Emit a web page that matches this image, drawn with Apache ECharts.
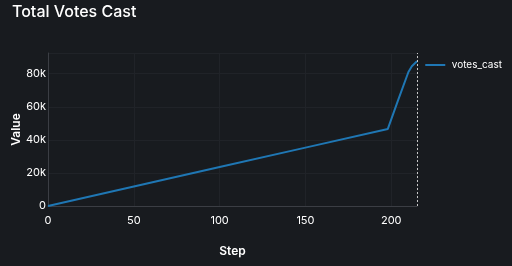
<!DOCTYPE html>
<html><head><meta charset="utf-8">
<script src="https://cdn.jsdelivr.net/npm/echarts@6/dist/echarts.min.js"></script>
<style>html,body{margin:0;padding:0;background:#181b1f;}#c{width:512px;height:266px;}</style>
</head><body><div id="c"></div>
<script>
const title = "Total Votes Cast";
const seriesName = "votes_cast";
const steps = [0, 50, 100, 150, 198, 204, 210, 212, 215];
const votes = [0, 11800, 23600, 35300, 46600, 64000, 81000, 84500, 87500];
const xMax = 215, yMax = 92500;

const chart = echarts.init(document.getElementById('c'));
const font = 'Inter, "Noto Sans", sans-serif';
chart.setOption({
  backgroundColor: '#181b1f',
  animation: false,
  title: { text: title, left: 7, top: -1, textStyle: { color: '#ffffff', fontSize: 16, fontWeight: 500, fontFamily: font } },
  legend: { right: 5, top: 55, icon: 'path://M0,0 L1,0 L1,0.1 L0,0.1 Z', itemWidth: 23, itemHeight: 2, itemGap: 2,
    textStyle: { color: '#ffffff', fontSize: 10, fontFamily: font }, data: [seriesName] },
  grid: { left: 48, right: 95, top: 53, bottom: 60, outerBoundsMode: 'none' },
  xAxis: {
    type: 'value', min: 0, max: xMax, interval: 50,
    name: 'Step', nameLocation: 'middle', nameGap: 39, nameMoveOverlap: false,
    nameTextStyle: { color: '#ffffff', fontSize: 12, fontWeight: 600, fontFamily: font },
    axisLine: { show: true, lineStyle: { color: '#3b3e44' } },
    axisTick: { show: false },
    axisLabel: { color: '#ffffff', fontSize: 11, fontFamily: font, margin: 9, showMaxLabel: false },
    splitLine: { show: true, lineStyle: { color: '#202328' } }
  },
  yAxis: {
    type: 'value', min: 0, max: yMax, interval: 20000,
    name: 'Value', nameLocation: 'middle', nameGap: 26, nameMoveOverlap: false,
    nameTextStyle: { color: '#ffffff', fontSize: 12, fontWeight: 600, fontFamily: font },
    axisLine: { show: true, lineStyle: { color: '#3b3e44' } },
    axisTick: { show: false },
    axisLabel: { color: '#ffffff', fontSize: 11, fontFamily: font, margin: 2, showMaxLabel: false,
      formatter: v => v === 0 ? '0' : (v / 1000) + 'k' },
    splitLine: { show: true, lineStyle: { color: '#202328' } }
  },
  series: [{
    name: seriesName, type: 'line', showSymbol: false,
    data: steps.map((s, i) => [s, votes[i]]),
    lineStyle: { color: '#1f77b4', width: 2 }, itemStyle: { color: '#1f77b4' },
    markLine: { silent: true, symbol: 'none', label: { show: false },
      lineStyle: { color: '#c8c8c8', type: [2, 2], width: 1 },
      data: [{ xAxis: steps[steps.length - 1] }] }
  }]
});
</script></body></html>
